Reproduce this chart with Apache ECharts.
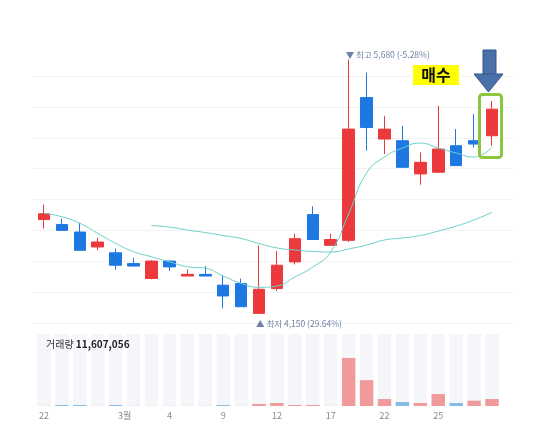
<!DOCTYPE html>
<html><head><meta charset="utf-8">
<script src="https://cdn.jsdelivr.net/npm/echarts@6/dist/echarts.min.js"></script>
<style>html,body{margin:0;padding:0;background:#fff}#c{width:551px;height:445px}</style>
</head><body><div id="c"></div>
<script>
const categories = ['2021-02-22','2021-02-23','2021-02-24','2021-02-25','2021-02-26','2021-03-02','2021-03-03','2021-03-04','2021-03-05','2021-03-08','2021-03-09','2021-03-10','2021-03-11','2021-03-12','2021-03-15','2021-03-16','2021-03-17','2021-03-18','2021-03-19','2021-03-22','2021-03-23','2021-03-24','2021-03-25','2021-03-26','2021-03-29','2021-03-30'];
const tickLabels = ['22','','','','','3월','','4','','','9','','','12','','','17','','','22','','','25','','',''];
const opens  = [4715,4685,4640,4550,4515,4450,4360,4465,4375,4385,4320,4330,4150,4300,4460,4745,4560,4590,5450,5200,5190,4990,5000,5160,5190,5220];
const closes = [4750,4650,4530,4580,4440,4435,4465,4430,4385,4375,4255,4190,4295,4440,4600,4595,4595,5260,5270,5260,5030,5060,5140,5040,5170,5380];
const lows   = [4660,4650,4530,4530,4415,4435,4355,4405,4375,4375,4180,4190,4150,4285,4445,4595,4560,4580,5130,5110,5030,4925,5000,5040,5150,5160];
const highs  = [4805,4720,4695,4605,4540,4485,4470,4470,4415,4435,4380,4360,4560,4525,4630,4795,4630,5680,5600,5340,5280,5120,5400,5260,5350,5430];
const ma5    = [4753,4732,4693,4632,4572,4522,4491,4461,4431,4422,4375,4331,4307,4315,4369,4429,4520,4749,4996,5092,5146,5176,5146,5116,5092,5152];
const ma20   = ['-','-','-','-','-','-',4679,4670,4652,4637,4619,4601,4571,4544,4532,4523,4520,4538,4562,4592,4604,4619,4646,4676,4713,4759];
const volumes = [200000,1600000,1600000,200000,1600000,200000,200000,200000,200000,200000,1600000,200000,3300000,5000000,1700000,1700000,200000,80100000,43100000,11600000,6600000,5000000,19900000,5000000,8800000,11607056];
const volumeDir = [1,-1,-1,1,-1,-1,1,-1,1,-1,-1,-1,1,1,1,1,1,1,1,1,-1,1,1,-1,1,1];

const RED = '#ec3a3c', BLUE = '#1d78e2', MA = '#6ccfc9';
const KFONT = '"Noto Sans CJK KR","Noto Sans",sans-serif';

const last = closes.length - 1;
const cur = closes[last];
const iMax = highs.indexOf(Math.max(...highs));
const iMin = lows.indexOf(Math.min(...lows));
const pct = v => ((cur / v - 1) * 100).toFixed(2);
const fmt = v => v.toLocaleString('en-US');

const chart = echarts.init(document.getElementById('c'));
chart.setOption({
  animation: false,
  backgroundColor: '#fff',
  grid: [
    {left: 33, right: 38, top: 76, bottom: 122},
    {left: 35, right: 50, top: 76, bottom: 122},
    {left: 35, right: 50, top: 334, bottom: 39}
  ],
  xAxis: [
    {type: 'value', gridIndex: 0, min: 0, max: 1, show: false},
    {type: 'category', gridIndex: 1, data: categories, boundaryGap: true,
     axisLine: {show: false}, axisTick: {show: false}, axisLabel: {show: false}, splitLine: {show: false}},
    {type: 'category', gridIndex: 2, data: categories, boundaryGap: true,
     axisLine: {show: false}, axisTick: {show: false}, splitLine: {show: false},
     axisLabel: {
       margin: 5, fontSize: 9, color: '#8a8a8a', fontFamily: KFONT,
       interval: (i) => tickLabels[i] !== '',
       formatter: (v, i) => tickLabels[i].indexOf('월') >= 0 ? '{m|' + tickLabels[i] + '}' : tickLabels[i],
       rich: {m: {fontSize: 9, color: '#8a8a8a', fontFamily: KFONT, padding: [0, 18, 0, 0]}}
     }}
  ],
  yAxis: [
    {type: 'value', gridIndex: 0, min: 4092, max: 5580, interval: 186,
     axisLine: {show: false}, axisTick: {show: false}, axisLabel: {show: false},
     splitLine: {lineStyle: {color: '#f3f3f3', width: 1}}},
    {type: 'value', gridIndex: 1, min: 4092, max: 5580, interval: 186, show: false, splitLine: {show: false}},
    {type: 'value', gridIndex: 2, min: 0, max: 120000000, show: false, splitLine: {show: false}}
  ],
  series: [
    {
      type: 'candlestick', xAxisIndex: 1, yAxisIndex: 1, barWidth: 12, clip: false,
      data: categories.map((c, i) => [opens[i], closes[i], lows[i], highs[i]]),
      itemStyle: {color: RED, color0: BLUE, borderColor: RED, borderColor0: BLUE, borderWidth: 1}
    },
    {type: 'line', xAxisIndex: 1, yAxisIndex: 1, data: ma5, smooth: true, showSymbol: false,
     lineStyle: {color: MA, width: 1}},
    {type: 'line', xAxisIndex: 1, yAxisIndex: 1, data: ma20, smooth: true, showSymbol: false,
     lineStyle: {color: MA, width: 1}},
    {type: 'bar', xAxisIndex: 2, yAxisIndex: 2, barWidth: '75%',
     showBackground: true, backgroundStyle: {color: '#f4f6fa'},
     data: volumes.map((v, i) => ({value: v, itemStyle: {color: volumeDir[i] > 0 ? '#f09a9c' : '#84bbe6'}}))}
  ]
});

const pHi = chart.convertToPixel({gridIndex: 1}, [iMax, highs[iMax]]);
const pLo = chart.convertToPixel({gridIndex: 1}, [iMin, lows[iMin]]);
const annoStyle = {fontSize: 8.5, fill: '#6f82a6', fontFamily: KFONT, verticalAlign: 'middle', align: 'left'};

chart.setOption({
  graphic: [
    {type: 'text', z: 100, x: pHi[0] - 3, y: pHi[1] - 5,
     style: Object.assign({text: '▼ 최고 ' + fmt(highs[iMax]) + ' (' + pct(highs[iMax]) + '%)'}, annoStyle)},
    {type: 'text', z: 100, x: pLo[0] - 3, y: pLo[1] + 10,
     style: Object.assign({text: '▲ 최저 ' + fmt(lows[iMin]) + ' (' + pct(lows[iMin]) + '%)'}, annoStyle)},
    {type: 'text', z: 100, x: 46, y: 344, style: {
      text: '{a|거래량 }{b|' + fmt(volumes[last]) + '}', verticalAlign: 'middle',
      rich: {a: {fontSize: 10, fill: '#333', fontFamily: KFONT}, b: {fontSize: 10, fontWeight: 'bold', fill: '#222', fontFamily: KFONT}}
    }},
    {type: 'rect', z: 100, shape: {x: 413, y: 65, width: 46, height: 20}, style: {fill: '#ffff00'}},
    {type: 'text', z: 101, x: 436, y: 75, style: {text: '매수', fontSize: 16, fontWeight: 'bold', fill: '#111', fontFamily: KFONT, align: 'center', verticalAlign: 'middle'}},
    {type: 'rect', z: 100, shape: {x: 483, y: 50, width: 13, height: 25}, style: {fill: '#4a70a8', stroke: '#33578c', lineWidth: 1}},
    {type: 'polygon', z: 100, shape: {points: [[474, 74], [503, 74], [488.5, 92]]}, style: {fill: '#4a70a8', stroke: '#33578c', lineWidth: 1}},
    {type: 'rect', z: 100, shape: {x: 479.5, y: 94.5, width: 22, height: 63, r: 3}, style: {fill: 'none', stroke: '#8cc63f', lineWidth: 3}}
  ]
});
</script></body></html>
